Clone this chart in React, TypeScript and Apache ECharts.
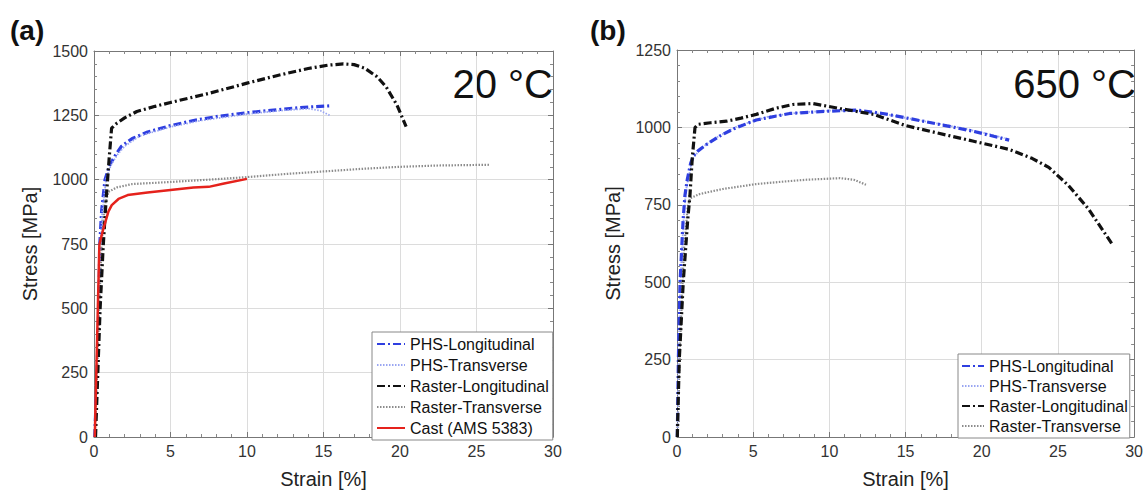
import React, { useEffect, useRef } from "react";
import * as echarts from "echarts";

const FONT = "'Liberation Sans', Arial, Helvetica, sans-serif";

// ---- Panel (a): 20 °C  [strain %, stress MPa]
const phsLongA: [number, number][] = [
  [0.05, 0], [0.2, 250], [0.32, 500], [0.38, 750], [0.5, 880], [0.72, 1000], [1.05, 1060],
  [1.4, 1095], [1.8, 1130], [2.5, 1160], [3.5, 1185], [5, 1210], [6.5, 1230], [8, 1245],
  [10, 1260], [12, 1272], [13.5, 1280], [14.5, 1284], [15.5, 1287],
];
const phsTransA: [number, number][] = [
  [0.05, 0], [0.2, 240], [0.33, 490], [0.4, 730], [0.55, 880], [0.8, 1005], [1.1, 1055],
  [1.5, 1095], [2, 1130], [3, 1170], [5, 1205], [7, 1230], [10, 1255], [12.5, 1270],
  [14, 1276], [14.8, 1268], [15.4, 1250],
];
const rasterLongA: [number, number][] = [
  [0.1, 0], [0.25, 250], [0.4, 500], [0.6, 740], [0.8, 930], [1.0, 1090], [1.15, 1200],
  [1.5, 1220], [2, 1240], [2.8, 1265], [4, 1285], [5, 1300], [7.5, 1335], [10, 1375],
  [12, 1405], [14, 1432], [15.3, 1445], [16.3, 1450], [17, 1447], [17.7, 1433], [18.5, 1400],
  [19.1, 1360], [19.8, 1290], [20.4, 1206],
];
const rasterTransA: [number, number][] = [
  [0.05, 0], [0.2, 250], [0.35, 520], [0.5, 750], [0.7, 900], [0.95, 953], [1.5, 970],
  [2.5, 983], [5, 991], [7.5, 1000], [10, 1010], [12.5, 1022], [15, 1032], [17.5, 1042],
  [20, 1050], [22.5, 1055], [25.9, 1058],
];
const castA: [number, number][] = [
  [0.05, 0], [0.15, 250], [0.25, 500], [0.35, 747], [0.57, 800], [0.94, 876], [1.16, 901],
  [1.6, 925], [2.2, 940], [3.5, 950], [5, 960], [6.5, 970], [7.5, 972], [8.5, 985], [10, 1003],
];

// ---- Panel (b): 650 °C
const phsLongB: [number, number][] = [
  [0.02, 0], [0.09, 250], [0.2, 500], [0.4, 700], [0.52, 780], [0.68, 833], [0.9, 885],
  [1.1, 910], [1.4, 925], [1.94, 945], [2.8, 972], [3.7, 995], [5.2, 1024], [7.4, 1045],
  [9.8, 1052], [11.8, 1056], [13.5, 1045], [15, 1031], [17, 1012], [19.4, 988], [21.8, 959],
];
const phsTransB: [number, number][] = [
  [0.02, 0], [0.1, 250], [0.22, 500], [0.45, 720], [0.6, 800], [1.0, 895], [1.5, 930],
  [2.5, 965], [4, 1005], [6, 1035], [8, 1048], [10, 1054], [12, 1052], [14, 1040],
  [16, 1022], [18.5, 1000], [20.5, 978], [21.5, 965],
];
const rasterLongB: [number, number][] = [
  [0.02, 0], [0.15, 250], [0.41, 500], [0.7, 700], [0.85, 780], [1.0, 900], [1.18, 999],
  [1.4, 1010], [2.2, 1015], [3.25, 1020], [4.2, 1030], [5.2, 1042], [6.5, 1062], [7.6, 1074],
  [8.9, 1077], [10.7, 1061], [12.9, 1042], [15, 1006], [17, 983], [19.4, 956], [21.8, 929],
  [23.3, 900], [24.4, 871], [25.7, 812], [27, 737], [28.6, 620],
];
const rasterTransB: [number, number][] = [
  [0.02, 0], [0.2, 300], [0.45, 600], [0.7, 740], [0.85, 771], [1.5, 785], [3, 801],
  [5.2, 817], [7, 825], [8.5, 831], [10.7, 836], [11.6, 831], [12.4, 815],
];

const namesA = ["PHS-Longitudinal", "PHS-Transverse", "Raster-Longitudinal", "Raster-Transverse", "Cast (AMS 5383)"];
const namesB = ["PHS-Longitudinal", "PHS-Transverse", "Raster-Longitudinal", "Raster-Transverse"];
const SUFFIX_B = " (b)";

const xTicks = { min: 0, max: 30, interval: 5 };
const yTicksA = { min: 0, max: 1500, interval: 250 };
const yTicksB = { min: 0, max: 1250, interval: 250 };

const styles: Record<string, any> = {
  "PHS-Longitudinal": { color: "#2f3fe0", width: 3.2, type: [8, 3, 2, 3] },
  "PHS-Transverse": { color: "#9aa6f2", width: 1.8, type: [1.5, 1.5] },
  "Raster-Longitudinal": { color: "#111111", width: 3.2, type: [8, 3, 2, 3] },
  "Raster-Transverse": { color: "#8c8c8c", width: 2.2, type: [1.5, 1.5] },
  "Cast (AMS 5383)": { color: "#e5221c", width: 2.5, type: "solid" },
};

function mkSeries(name: string, data: [number, number][], idx: number, suffix = "") {
  const s = styles[name];
  return {
    type: "line",
    name: name + suffix,
    xAxisIndex: idx,
    yAxisIndex: idx,
    data,
    symbol: "none",
    showSymbol: false,
    lineStyle: { color: s.color, width: s.width, type: s.type },
    itemStyle: { color: s.color },
    silent: true,
  };
}

const plain = (v: number) => String(v);

function xAxisPair(grid: number) {
  const common = {
    type: "value",
    gridIndex: grid,
    ...xTicks,
    axisLine: { show: true, onZero: false, lineStyle: { color: "#777", width: 1 } },
    axisTick: { show: true, inside: true, length: 5, lineStyle: { color: "#777" } },
    minorTick: { show: true, splitNumber: 5, length: 3, lineStyle: { color: "#888" } },
  };
  return [
    {
      ...common,
      position: "bottom",
      name: "Strain [%]",
      nameLocation: "middle",
      nameGap: 32,
      nameTextStyle: { fontSize: 20, color: "#222", fontFamily: FONT },
      axisLabel: { show: true, fontSize: 16, color: "#333", fontFamily: FONT, margin: 6, formatter: plain },
      splitLine: { show: true, lineStyle: { color: "#dcdcdc", width: 1 } },
    },
    {
      ...common,
      position: "top",
      axisLabel: { show: false },
      splitLine: { show: false },
    },
  ];
}

function yAxisPair(grid: number, ticks: { min: number; max: number; interval: number }) {
  const common = {
    type: "value",
    gridIndex: grid,
    ...ticks,
    axisLine: { show: true, onZero: false, lineStyle: { color: "#777", width: 1 } },
    axisTick: { show: true, inside: true, length: 5, lineStyle: { color: "#777" } },
    minorTick: { show: true, splitNumber: 5, length: 3, lineStyle: { color: "#888" } },
  };
  return [
    {
      ...common,
      position: "left",
      name: "Stress [MPa]",
      nameLocation: "middle",
      nameGap: 54,
      nameTextStyle: { fontSize: 20, color: "#222", fontFamily: FONT },
      axisLabel: { show: true, fontSize: 16, color: "#333", fontFamily: FONT, margin: 6, formatter: plain },
      splitLine: { show: true, lineStyle: { color: "#dcdcdc", width: 1 } },
    },
    {
      ...common,
      position: "right",
      axisLabel: { show: false },
      splitLine: { show: false },
    },
  ];
}

export default function App() {
  const ref = useRef<HTMLDivElement>(null);
  useEffect(() => {
    if (!ref.current) return;
    const chart = echarts.init(ref.current, undefined, { renderer: "svg" });
    const series: any[] = [
      mkSeries("PHS-Longitudinal", phsLongA, 0),
      mkSeries("PHS-Transverse", phsTransA, 0),
      mkSeries("Raster-Transverse", rasterTransA, 0),
      mkSeries("Raster-Longitudinal", rasterLongA, 0),
      mkSeries("Cast (AMS 5383)", castA, 0),
      mkSeries("Raster-Transverse", rasterTransB, 2, SUFFIX_B),
      mkSeries("PHS-Transverse", phsTransB, 2, SUFFIX_B),
      mkSeries("PHS-Longitudinal", phsLongB, 2, SUFFIX_B),
      mkSeries("Raster-Longitudinal", rasterLongB, 2, SUFFIX_B),
    ];
    const legendCommon = {
      orient: "vertical",
      backgroundColor: "#ffffff",
      borderColor: "#888",
      borderWidth: 1,
      borderRadius: 0,
      itemHeight: 14,
      selectedMode: false,
      textStyle: { fontSize: 16, lineHeight: 16, color: "#111", fontFamily: FONT },
      itemStyle: { opacity: 0 },
    };
    chart.setOption({
      animation: false,
      backgroundColor: "#ffffff",
      grid: [
        { left: 94, top: 51, width: 459, height: 390 },
        { left: 677, top: 50, width: 458, height: 390 },
      ],
      xAxis: [...xAxisPair(0), ...xAxisPair(1)],
      yAxis: [...yAxisPair(0, yTicksA), ...yAxisPair(1, yTicksB)],
      legend: [
        {
          ...legendCommon,
          left: 372,
          top: 332,
          padding: [4, 4, 4, 4],
          itemWidth: 28,
          itemGap: 5,
          data: namesA,
        },
        {
          ...legendCommon,
          left: 958,
          top: 354,
          padding: [4, 2, 4, 3],
          itemWidth: 22,
          itemGap: 4,
          data: namesB.map((n) => n + SUFFIX_B),
          formatter: (n: string) => n.replace(SUFFIX_B, ""),
        },
      ],
      graphic: [
        { type: "text", left: 10, top: 16, style: { text: "(a)", fontSize: 28, fontWeight: "bold", fill: "#111", fontFamily: FONT } },
        { type: "text", left: 590, top: 16, style: { text: "(b)", fontSize: 28, fontWeight: "bold", fill: "#111", fontFamily: FONT } },
        { type: "text", right: 1146 - 553, top: 64, style: { text: "20 °C", fontSize: 40, fill: "#111", fontFamily: FONT } },
        { type: "text", right: 10, top: 64, style: { text: "650 °C", fontSize: 40, fill: "#111", fontFamily: FONT } },
      ],
      series,
    });
    return () => chart.dispose();
  }, []);
  return (
    <div
      ref={ref}
      style={{ position: "absolute", left: 0, top: 0, width: 1146, height: 494, background: "#fff" }}
    />
  );
}
